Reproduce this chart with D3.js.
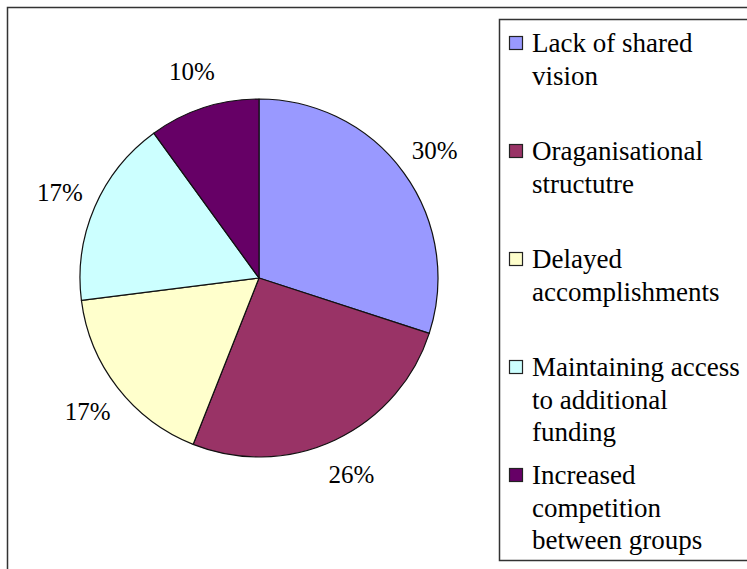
<!DOCTYPE html>
<html lang="en">
<head>
    <meta charset="utf-8">
    <title>Pie Chart</title>
    <style>
        body { margin: 0; background: #fff; }
        svg { display: block; }
    </style>
</head>
<body>

<div id="pie-chart"></div>

<script src="https://d3js.org/d3.v7.min.js"></script>

<script type="text/javascript">

    var categories = [
        "Lack of shared vision",
        "Oraganisational structutre",
        "Delayed accomplishments",
        "Maintaining access to additional funding",
        "Increased competition between groups"
    ];

    // legend lines as they wrap in the picture
    var legendLines = [
        ["Lack of shared", "vision"],
        ["Oraganisational", "structutre"],
        ["Delayed", "accomplishments"],
        ["Maintaining access", "to additional", "funding"],
        ["Increased", "competition", "between groups"]
    ];

    var values = [30, 26, 17, 17, 10];
    var colors = ["#9999ff", "#993366", "#ffffcc", "#ccffff", "#660066"];

    var serif = "'Liberation Serif', 'Times New Roman', 'DejaVu Serif', serif";

    var width = 747,
        height = 569;

    var svg = d3.select("#pie-chart")
        .append("svg")
        .attr("width", width)
        .attr("height", height);

    // outer chart frame (runs off the right and bottom edges)
    svg.append("rect")
        .attr("x", 7.5)
        .attr("y", 7.5)
        .attr("width", 800)
        .attr("height", 600)
        .style("fill", "none")
        .style("stroke", "#333")
        .style("stroke-width", 1.5);

    var cx = 259, cy = 278, radius = 179, labelRadius = 217;

    var pie = d3.pie().sort(null);
    var arc = d3.arc().innerRadius(0).outerRadius(radius);
    var total = d3.sum(values);

    var g = svg.append("g")
        .attr("transform", "translate(" + cx + "," + cy + ")");

    var slices = pie(values);

    g.selectAll(".slice")
        .data(slices)
        .enter().append("path")
        .attr("class", "slice")
        .attr("d", arc)
        .style("fill", function (d, i) { return colors[i]; })
        .style("stroke", "#111")
        .style("stroke-width", 1.2)
        .style("stroke-linejoin", "round");

    g.selectAll(".pct")
        .data(slices)
        .enter().append("text")
        .attr("class", "pct")
        .attr("x", function (d) {
            var a = (d.startAngle + d.endAngle) / 2;
            return Math.sin(a) * labelRadius;
        })
        .attr("y", function (d) {
            var a = (d.startAngle + d.endAngle) / 2;
            return -Math.cos(a) * labelRadius;
        })
        .attr("text-anchor", "middle")
        .attr("dy", "0.35em")
        .style("font-family", serif)
        .style("font-size", "25px")
        .style("fill", "#000")
        .text(function (d) { return Math.round(d.value / total * 100) + "%"; });

    // legend
    var legendX = 499.5, legendY = 19.5;

    svg.append("rect")
        .attr("x", legendX)
        .attr("y", legendY)
        .attr("width", 300)
        .attr("height", 541)
        .style("fill", "#fff")
        .style("stroke", "#333")
        .style("stroke-width", 1.5);

    var legendY0 = 52, itemStep = 108, lineH = 32.5;

    var items = svg.selectAll(".legend-item")
        .data(categories)
        .enter().append("g")
        .attr("class", "legend-item")
        .attr("transform", function (d, i) {
            return "translate(0," + (legendY0 + i * itemStep) + ")";
        });

    items.append("rect")
        .attr("x", 509.5)
        .attr("y", -15.5)
        .attr("width", 13)
        .attr("height", 13)
        .style("fill", function (d, i) { return colors[i]; })
        .style("stroke", "#222")
        .style("stroke-width", 1.2);

    items.append("text")
        .attr("x", 532)
        .attr("y", 0)
        .style("font-family", serif)
        .style("font-size", "27px")
        .style("fill", "#000")
        .selectAll("tspan")
        .data(function (d, i) { return legendLines[i]; })
        .enter().append("tspan")
        .attr("x", 532)
        .attr("dy", function (d, j) { return j === 0 ? 0 : lineH; })
        .text(function (d) { return d; });

</script>
</body>
</html>
